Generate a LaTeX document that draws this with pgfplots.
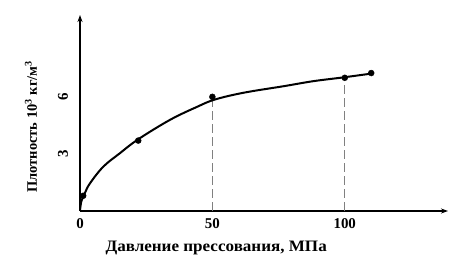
\documentclass[border=0pt]{standalone}
\usepackage{fontspec}
\setmainfont{Liberation Serif}
\usepackage{pgfplots}
\pgfplotsset{compat=1.18}
\usetikzlibrary{arrows.meta}
\begin{document}
\begin{tikzpicture}
\path (-80bp,-52bp) rectangle (383bp,211bp);
\begin{axis}[
  at={(0,0)}, anchor=origin,
  scale only axis, width=368bp, height=196bp,
  xmin=0, xmax=139, ymin=0, ymax=10.3,
  axis lines=left,
  axis line style={line width=1.1bp, -{Stealth[length=7bp,width=5bp]}},
  xtick={0,50,100}, ytick={3,6},
  major tick length=0pt,
  /pgf/number format/assume math mode=true,
  ticklabel style={font=\bfseries\fontsize{15}{17}\selectfont},
  xticklabel style={anchor=center, yshift=-13bp},
  yticklabel style={rotate=90, anchor=center, yshift=17bp},
  xlabel={Давление прессования, МПа},
  xlabel style={font=\bfseries\fontsize{16}{18}\selectfont, xscale=1.07, at={(rel axis cs:0.37,0)}, anchor=center, yshift=-37bp},
  ylabel={Плотность  10\textsuperscript{3} кг/м\textsuperscript{3}},
  ylabel style={font=\bfseries\fontsize{14.5}{16}\selectfont, at={(rel axis cs:0,0.43)}, anchor=center, yshift=49bp},
  clip=false,
]
\addplot[gray, dash pattern=on 9bp off 4bp, line width=0.6bp] coordinates {(50,0) (50,5.85)};
\addplot[gray, dash pattern=on 9bp off 4bp, line width=0.6bp] coordinates {(100,0) (100,7.02)};
\addplot[black, line width=2bp, smooth, tension=0.6] coordinates {
  (0,0) (0.5,0.5) (1.8,0.93) (3.8,1.46) (8.8,2.33) (15.1,3.04) (22,3.77) (34,4.79) (44,5.46) (51,5.86) (62,6.22) (77,6.56) (88,6.82) (99.4,7.02) (110,7.22)
};
\addplot[only marks, mark=*, mark size=3bp, black] coordinates {
  (1.2,0.8) (22,3.7) (50,6.0) (100,7.0) (110,7.25)
};
\end{axis}
\end{tikzpicture}
\end{document}
